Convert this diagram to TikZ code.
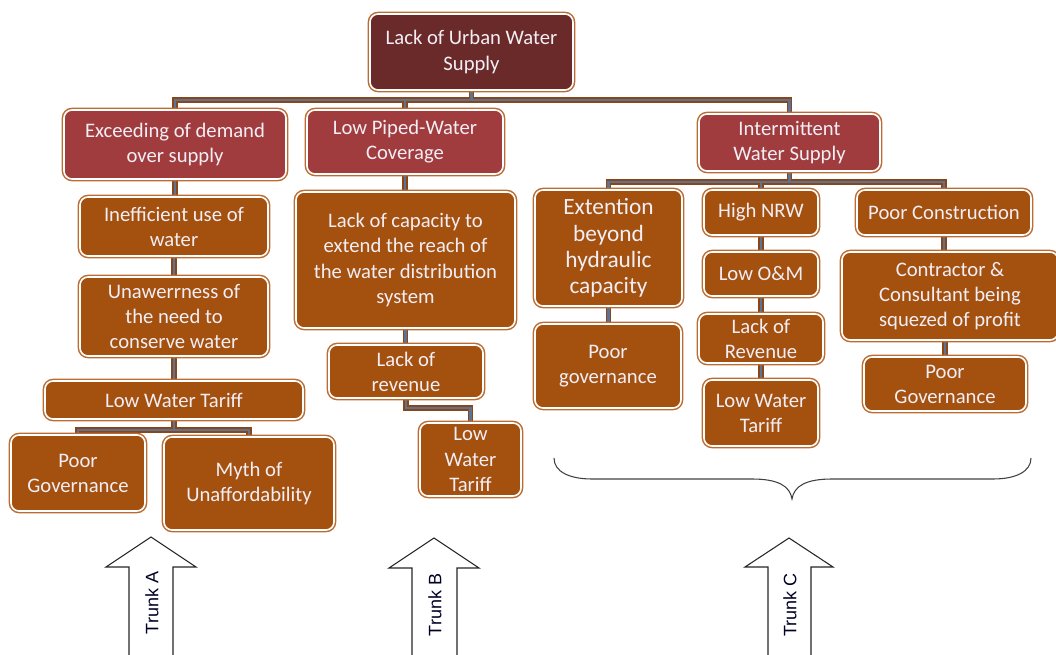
\documentclass[tikz,border=0pt]{standalone}
\usepackage{fontspec}
\setmainfont{Carlito}
\newfontfamily\arialf{Liberation Sans}
\usetikzlibrary{backgrounds}
\definecolor{rootfill}{HTML}{6B2A2A}
\definecolor{redfill}{HTML}{A03C3E}
\definecolor{brfill}{HTML}{A4510F}
\definecolor{bordc}{HTML}{BC6C32}
\definecolor{txtc}{HTML}{F3EEF6}
\definecolor{connbr}{HTML}{8C4615}
\definecolor{connbl}{HTML}{5A7498}
\tikzset{
 box/.style={rounded corners=6pt, fill=brfill, draw=white, line width=1.2pt,
   preaction={draw=bordc, line width=3.4pt}, text=txtc, align=center,
   font=\fontsize{15.5}{18.8}\selectfont, inner sep=1pt},
 redbox/.style={box, fill=redfill},
 rootbox/.style={box, fill=rootfill},
 bigbox/.style={box, font=\fontsize{17.5}{19.6}\selectfont},
 cbrown/.style={draw=connbr, line width=4.2pt},
 cblue/.style={draw=connbl, line width=1.9pt},
 trunk/.style={draw=black!85, line width=0.8pt, fill=white, line join=miter},
 trunklabel/.style={font=\arialf\fontsize{13.5}{16}\selectfont, rotate=90, text=black!85!blue},
 bracestyle/.style={draw=black!75, line width=0.8pt}
}
\newcommand\bx[7]{\node[#2, minimum width={(#5-#3-4)*0.75pt}, minimum height={(#6-#4-4)*0.75pt}] (#1) at ({(#3+#5)/2},{(#4+#6)/2}) {#7};}
\newcommand\allconns[1]{%
 \draw[#1] (root.south) -- (b1) -| (ex.north);
 \draw[#1] (b1) -| (lp.north);
 \draw[#1] (b1) -| (iw.north);
 \draw[#1] (ex.south) -- (ex.south |- ineff.north);
 \draw[#1] (ineff.south) -- (ineff.south |- unaw.north);
 \draw[#1] (unaw.south) -- (unaw.south |- lwtA.north);
 \draw[#1] (lwtA.south) -- (b2) -| (pgA.north);
 \draw[#1] (b2) -| (myth.north);
 \draw[#1] (lp.south) -- (lp.south |- cap.north);
 \draw[#1] (cap.south) -- (cap.south |- rev.north);
 \draw[#1] (rev.south) -- (b4) -| (lwtB.north);
 \draw[#1] (iw.south) -- (b3) -| (ext.north);
 \draw[#1] (b3) -| (nrw.north);
 \draw[#1] (b3) -| (pc.north);
 \draw[#1] (ext.south) -- (ext.south |- pgC.north);
 \draw[#1] (nrw.south) -- (nrw.south |- om.north);
 \draw[#1] (om.south) -- (om.south |- lrev.north);
 \draw[#1] (lrev.south) -- (lrev.south |- lwtC.north);
 \draw[#1] (pc.south) -- (pc.south |- con.north);
 \draw[#1] (con.south -| pgC2.north) -- (pgC2.north);
}
\begin{document}
\begin{tikzpicture}[x=0.75pt,y=-0.75pt]
\useasboundingbox (0,0) rectangle (1056,655);
\clip (0,0) rectangle (1056,655);
\bx{root}{rootbox}{368}{12}{575}{92}{Lack of Urban Water\\Supply}
\bx{ex}{redbox}{62}{108}{288}{181}{Exceeding of demand\\over supply}
\bx{lp}{redbox}{305}{108}{505}{176}{Low Piped-Water\\Coverage}
\bx{iw}{redbox}{697}{112}{882}{173}{Intermittent\\Water Supply}
\bx{ineff}{box}{78}{195}{270}{258}{Inefficient use of\\water}
\bx{unaw}{box}{78}{275}{270}{358}{Unawerrness of\\the need to\\conserve water}
\bx{lwtA}{box}{43}{379}{305}{421}{Low Water Tariff}
\bx{pgA}{box}{9}{433}{147}{513}{Poor\\Governance}
\bx{myth}{box}{162}{435}{336}{532}{Myth of\\Unaffordability}
\bx{cap}{box}{294}{190}{517}{330}{Lack of capacity to\\extend the reach of\\the water distribution\\system}
\bx{rev}{box}{327}{343}{485}{400}{Lack of\\revenue}
\bx{lwtB}{box}{418}{421}{523}{498}{Low\\Water\\Tariff}
\bx{ext}{bigbox}{533}{188}{684}{308}{Extention\\beyond\\hydraulic\\capacity}
\bx{pgC}{box}{533}{322}{683}{410}{Poor\\governance}
\bx{nrw}{box}{702}{188}{820}{237}{High NRW}
\bx{om}{box}{702}{250}{820}{298}{Low O\&M}
\bx{lrev}{box}{697}{312}{825}{365}{Lack of\\Revenue}
\bx{lwtC}{box}{702}{378}{820}{448}{Low Water\\Tariff}
\bx{pc}{box}{855}{188}{1033}{237}{Poor Construction}
\bx{con}{box}{840}{250}{1060}{342}{Contractor \&\\Consultant being\\squezed of profit}
\bx{pgC2}{box}{862}{355}{1028}{413}{Poor\\Governance}
\coordinate (b1) at (471.5,100);
\coordinate (b2) at (174,430);
\coordinate (b3) at (789.5,182);
\coordinate (b4) at (406,408);
\begin{pgfonlayer}{background}
\allconns{cbrown}
\allconns{cblue}
\end{pgfonlayer}
% brace
\draw[bracestyle] (554,458) .. controls (554,472) and (570,479) .. (592,479) -- (752,479)
  .. controls (778,479) and (790,486) .. (792,499)
  .. controls (794,486) and (806,479) .. (832,479) -- (993,479)
  .. controls (1015,479) and (1031,472) .. (1031,458);
% trunk arrows
\draw[trunk] (129,657) -- (129,567) -- (106,567) -- (151,537) -- (196,567) -- (173,567) -- (173,657);
\node[trunklabel] (ta) at (152,603) {Trunk A};
\draw[trunk] (412,657) -- (412,568) -- (389,568) -- (434,538) -- (479,568) -- (457,568) -- (457,657);
\node[trunklabel] (tb) at (435,605) {Trunk B};
\draw[trunk] (768,657) -- (768,567) -- (745,567) -- (789,538) -- (833,567) -- (811,567) -- (811,657);
\node[trunklabel] (tc) at (790,605) {Trunk C};
\end{tikzpicture}
\end{document}
